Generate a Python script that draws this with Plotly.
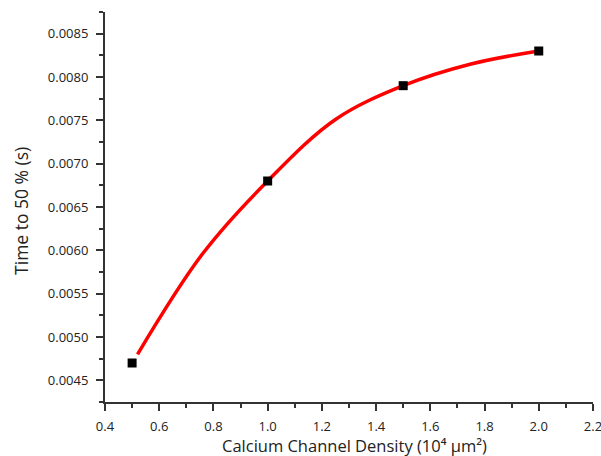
import plotly.graph_objects as go

density = [0.5, 1.0, 1.5, 2.0]
time50 = [0.0047, 0.0068, 0.0079, 0.0083]

# fitted curve
fit_x = [0.52, 0.76, 1.0, 1.25, 1.5, 1.75, 2.0]
fit_y = [0.00480, 0.00596, 0.0068, 0.00751, 0.0079, 0.00815, 0.0083]

x_ticks = [0.4, 0.6, 0.8, 1.0, 1.2, 1.4, 1.6, 1.8, 2.0, 2.2]
y_ticks = [0.0045, 0.0050, 0.0055, 0.0060, 0.0065, 0.0070, 0.0075, 0.0080, 0.0085]

font = "Open Sans"
tc = "#222222"

fig = go.Figure()
fig.add_trace(go.Scatter(x=fit_x, y=fit_y, mode="lines",
                         line=dict(color="#ff0000", width=3.5, shape="spline", smoothing=1.0),
                         showlegend=False, hoverinfo="skip"))
fig.add_trace(go.Scatter(x=density, y=time50, mode="markers",
                         marker=dict(symbol="square", color="black", size=9),
                         showlegend=False))

axis_common = dict(showline=True, linecolor="#333333", linewidth=2, ticks="outside",
                   ticklen=7, tickwidth=1.5, tickcolor="#333333", showgrid=False,
                   zeroline=False, mirror=False, automargin=False,
                   ticklabeloverflow="allow",
                   tickfont=dict(family=font, size=13, color=tc))

fig.update_xaxes(range=[0.4, 2.2001], tickmode="array", tickvals=x_ticks,
                 ticktext=[f"{v:.1f}" for v in x_ticks], ticklabelstandoff=4,
                 minor=dict(ticks="outside", ticklen=4, tickwidth=1.5, tickcolor="#333333",
                            tick0=0.4, dtick=0.1),
                 **axis_common)
fig.update_yaxes(range=[0.00425, 0.00875], tickmode="array", tickvals=y_ticks,
                 ticktext=[f"{v:.4f}" for v in y_ticks], ticklabelstandoff=5,
                 minor=dict(ticks="outside", ticklen=4, tickwidth=1.5, tickcolor="#333333",
                            tick0=0.0045, dtick=0.00025),
                 **axis_common)

fig.add_annotation(text="Calcium Channel Density (10⁴ μm²)", xref="paper", yref="paper",
                   x=0.512, y=0, xanchor="center", yanchor="middle", yshift=-43,
                   showarrow=False, borderpad=0, font=dict(family=font, size=16.5, color=tc))
fig.add_annotation(text="Time to 50 % (s)", xref="paper", yref="paper",
                   x=0, y=0.49, xanchor="center", yanchor="middle", xshift=-84, textangle=-90,
                   showarrow=False, borderpad=0, font=dict(family=font, size=17.5, color=tc))

fig.update_layout(width=601, height=456, plot_bgcolor="white", paper_bgcolor="white",
                  margin=dict(l=105, r=8, t=12, b=54))

fig.write_html("out.html")
